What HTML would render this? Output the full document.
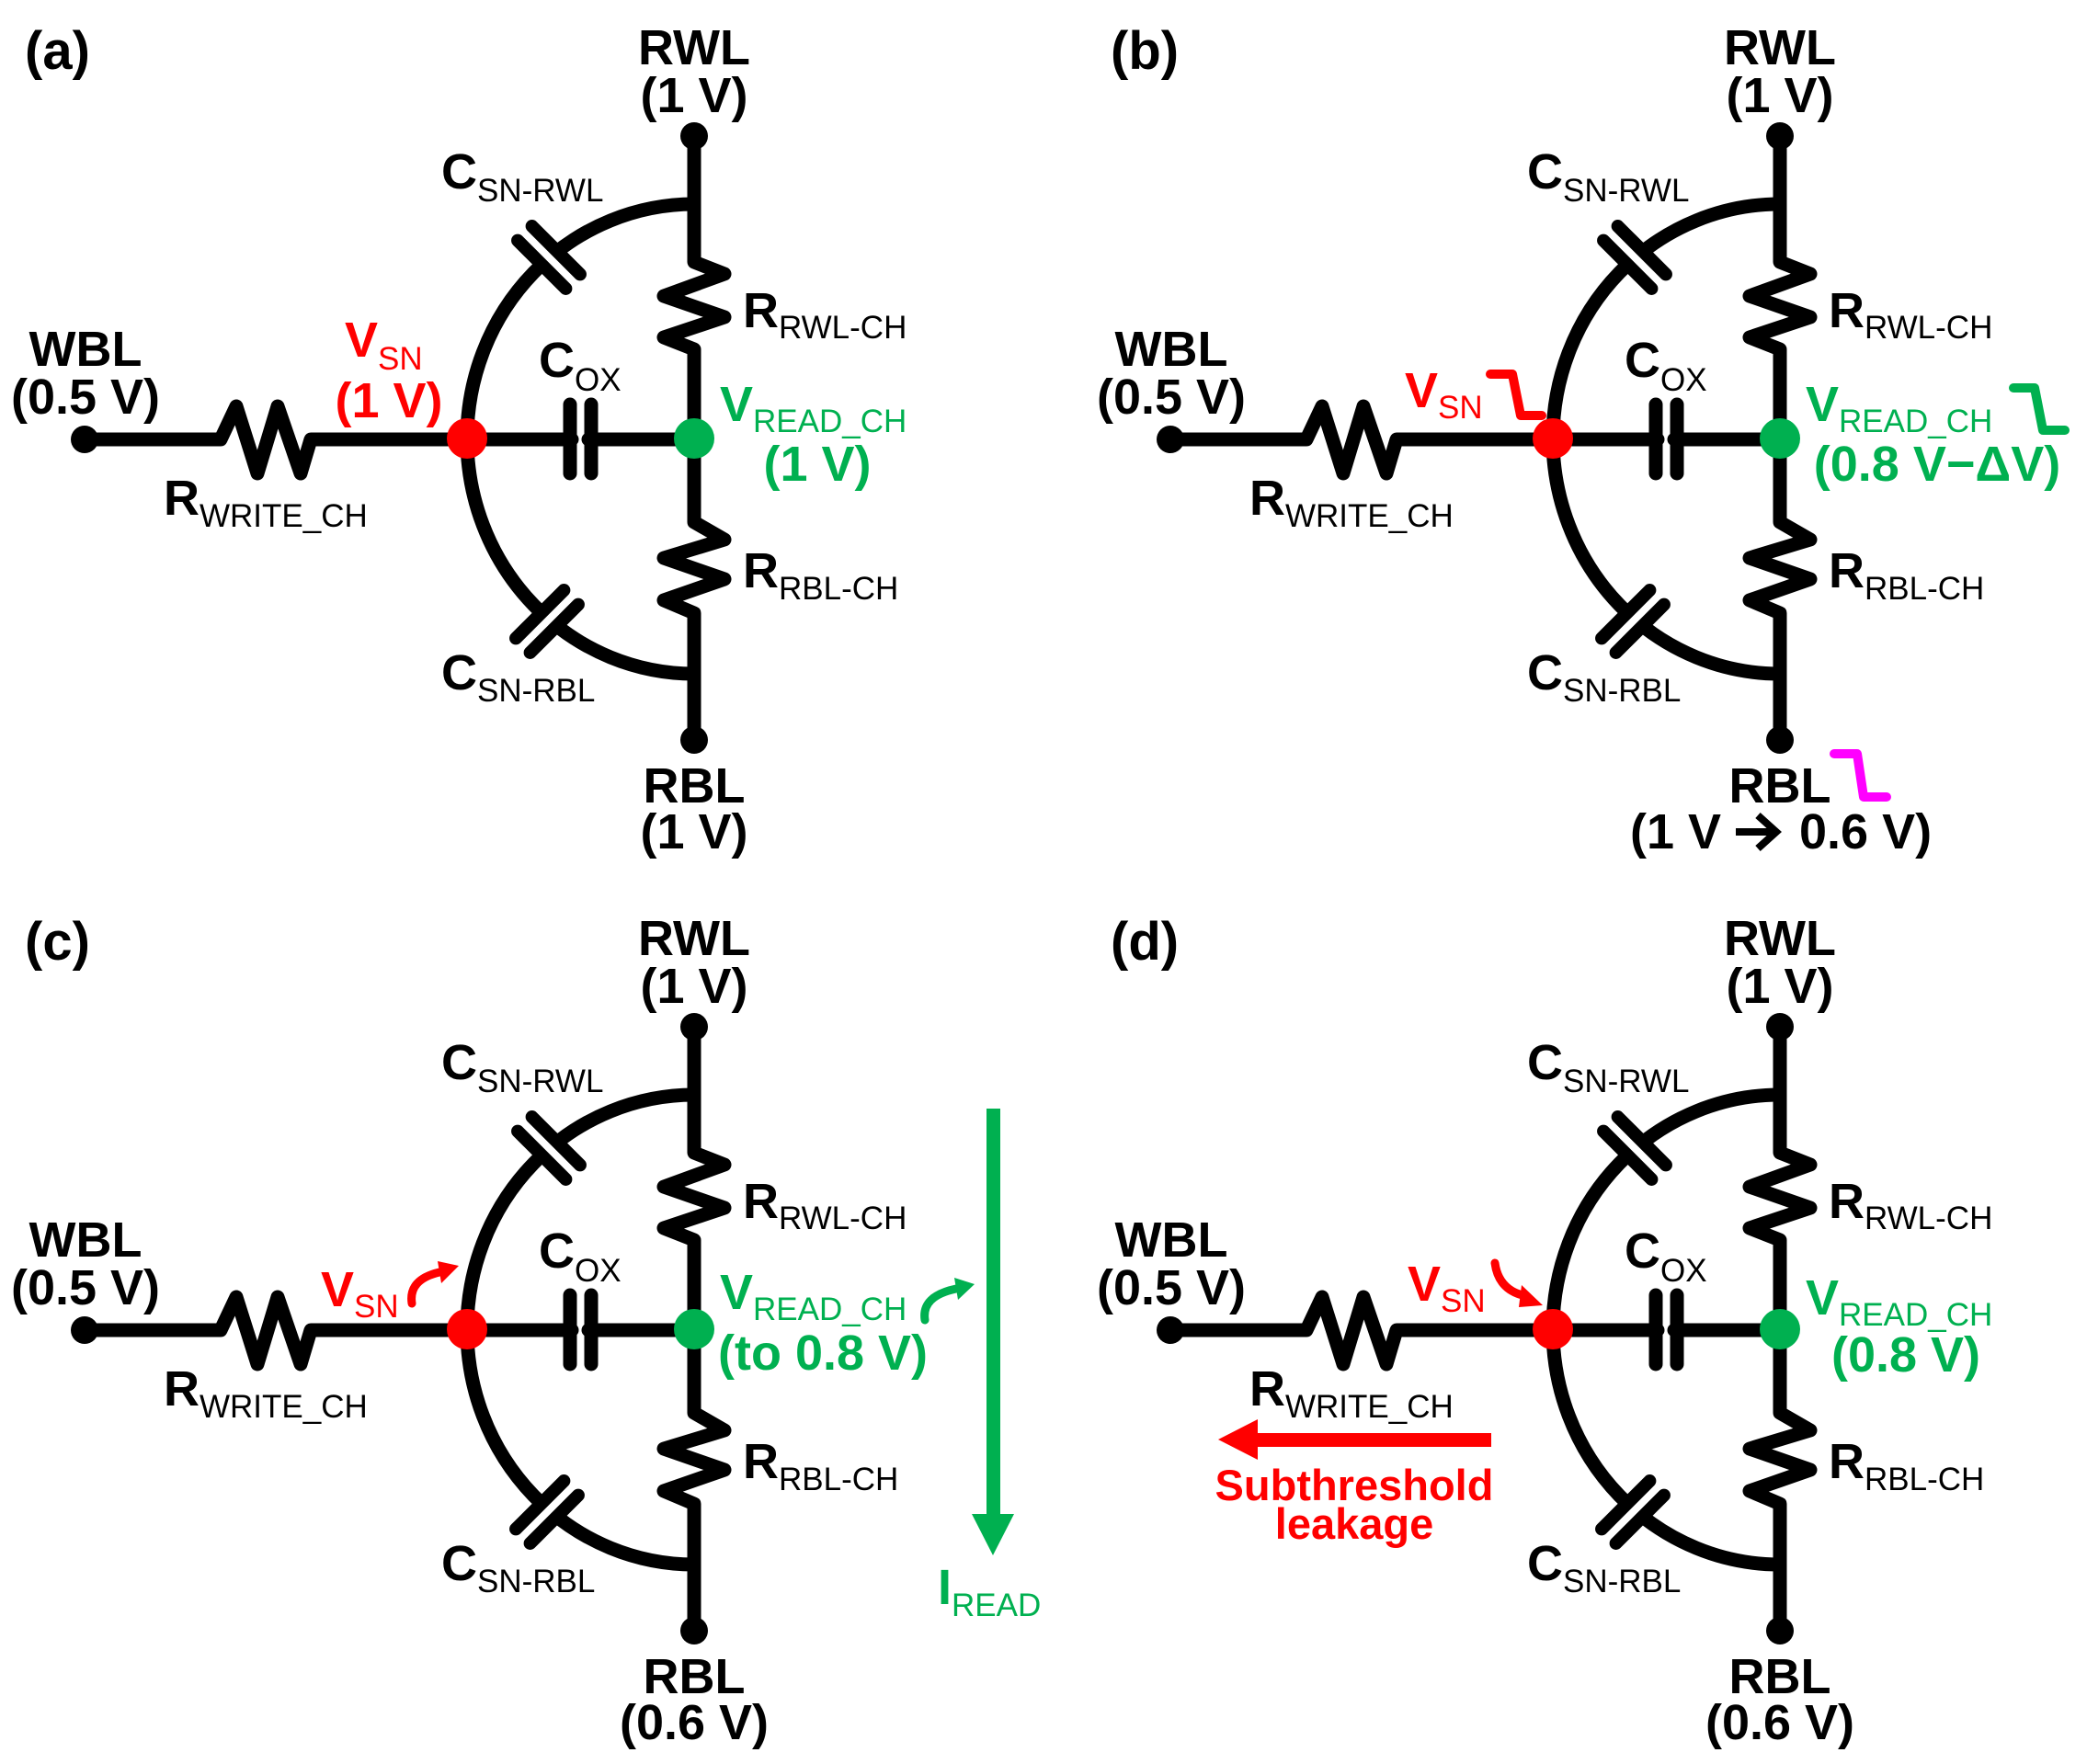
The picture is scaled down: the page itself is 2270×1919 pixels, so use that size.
<!DOCTYPE html>
<html><head><meta charset="utf-8"><style>
html,body{margin:0;padding:0;background:#fff;}
svg{display:block;}
text{font-family:"Liberation Sans",Arial,sans-serif;font-weight:bold;font-size:54px;}
.s{font-weight:normal;font-size:35px;}
</style></head><body>
<svg width="2270" height="1919" viewBox="0 0 2270 1919" xmlns="http://www.w3.org/2000/svg">
<defs>
<g id="circ">
  <g fill="none" stroke="#000" stroke-width="15" stroke-linecap="round" stroke-linejoin="round">
    <polyline points="92,478 240,478 257,442 280,515 302,442 327,515 338,478 508,478"/>
    <polyline points="508,478 622,478"/>
    <polyline points="640,478 755,478"/>
    <polyline points="755,148 755,285 788,298 722,322 788,345 722,367 755,380 755,568 788,587 722,607 788,630 722,653 755,667 755,805"/>
    <path d="M755,222 A247,255 0 0 0 508,477 A247,256 0 0 0 755,733" stroke-linecap="butt"/>
  </g>
  <g stroke="#000" stroke-width="15" stroke-linecap="round">
    <line x1="620" y1="440" x2="620" y2="515"/>
    <line x1="643" y1="440" x2="643" y2="515"/>
  </g>
  <g transform="translate(597,280) rotate(-45)">
    <rect x="-11" y="-12" width="22" height="24" fill="#fff"/>
    <line x1="-11" y1="-37" x2="-11" y2="37" stroke="#000" stroke-width="14" stroke-linecap="round"/>
    <line x1="11" y1="-37" x2="11" y2="37" stroke="#000" stroke-width="14" stroke-linecap="round"/>
  </g>
  <g transform="translate(595,676) rotate(45)">
    <rect x="-11" y="-12" width="22" height="24" fill="#fff"/>
    <line x1="-11" y1="-37" x2="-11" y2="37" stroke="#000" stroke-width="14" stroke-linecap="round"/>
    <line x1="11" y1="-37" x2="11" y2="37" stroke="#000" stroke-width="14" stroke-linecap="round"/>
  </g>
  <circle cx="92" cy="478" r="15" fill="#000"/>
  <circle cx="755" cy="148" r="15" fill="#000"/>
  <circle cx="755" cy="805" r="15" fill="#000"/>
  <circle cx="508" cy="477" r="22" fill="#ff0000"/>
  <circle cx="755" cy="477" r="22" fill="#00b050"/>
  <text x="755" y="70" text-anchor="middle">RWL</text>
  <text x="755" y="122" text-anchor="middle">(1 V)</text>
  <text x="480" y="205">C<tspan class="s" dy="14">SN-RWL</tspan></text>
  <text x="808" y="356">R<tspan class="s" dy="12">RWL-CH</tspan></text>
  <text x="93" y="398" text-anchor="middle">WBL</text>
  <text x="93" y="450" text-anchor="middle">(0.5 V)</text>
  <text x="586" y="410">C<tspan class="s" dy="15">OX</tspan></text>
  <text x="178" y="560">R<tspan class="s" dy="13">WRITE_CH</tspan></text>
  <text x="808" y="639">R<tspan class="s" dy="13">RBL-CH</tspan></text>
  <text x="480" y="750">C<tspan class="s" dy="13">SN-RBL</tspan></text>
  <text x="755" y="873" text-anchor="middle">RBL</text>
</g>
</defs>

<!-- (a) -->
<use href="#circ"/>
<text x="27" y="75" style="font-size:58px">(a)</text>
<text x="375" y="388" fill="#ff0000">V<tspan class="s" dy="14">SN</tspan></text>
<text x="423" y="454" text-anchor="middle" fill="#ff0000">(1 V)</text>
<text x="783" y="458" fill="#00b050">V<tspan class="s" dy="12">READ_CH</tspan></text>
<text x="889" y="523" text-anchor="middle" fill="#00b050">(1 V)</text>
<text x="755" y="923" text-anchor="middle">(1 V)</text>

<!-- (b) -->
<g transform="translate(1181,0)"><use href="#circ"/></g>
<text x="1208" y="75" style="font-size:58px">(b)</text>
<text x="1528" y="443" fill="#ff0000">V<tspan class="s" dy="12">SN</tspan></text>
<polyline points="1621,407 1645,407 1654,452 1677,452" fill="none" stroke="#ff0000" stroke-width="10" stroke-linecap="round" stroke-linejoin="round"/>
<text x="1964" y="458" fill="#00b050">V<tspan class="s" dy="12">READ_CH</tspan></text>
<polyline points="2190,422 2213,422 2222,468 2246,468" fill="none" stroke="#00b050" stroke-width="10" stroke-linecap="round" stroke-linejoin="round"/>
<text x="2107" y="523" text-anchor="middle" fill="#00b050">(0.8 V−ΔV)</text>
<polyline points="1995,820 2020,820 2027,867 2052,867" fill="none" stroke="#ff00ff" stroke-width="10" stroke-linecap="round" stroke-linejoin="round"/>
<text x="1773" y="923">(1 V</text>
<g fill="none" stroke="#000" stroke-width="8">
  <line x1="1888" y1="905" x2="1930" y2="905"/>
  <polyline points="1912,887 1932,905 1912,923"/>
</g>
<text x="1957" y="923">0.6 V)</text>

<!-- (c) -->
<g transform="translate(0,969)"><use href="#circ"/></g>
<text x="27" y="1044" style="font-size:58px">(c)</text>
<text x="349" y="1421" fill="#ff0000">V<tspan class="s" dy="12">SN</tspan></text>
<path d="M448,1418 Q444,1392 478,1384" fill="none" stroke="#ff0000" stroke-width="9" stroke-linecap="round"/>
<polygon points="476,1372 499,1377 480,1396" fill="#ff0000"/>
<text x="783" y="1424" fill="#00b050">V<tspan class="s" dy="12">READ_CH</tspan></text>
<text x="895" y="1490" text-anchor="middle" fill="#00b050">(to 0.8 V)</text>
<path d="M1006,1436 Q1002,1410 1040,1402" fill="none" stroke="#00b050" stroke-width="9" stroke-linecap="round"/>
<polygon points="1038,1390 1060,1397 1042,1414" fill="#00b050"/>
<rect x="1073" y="1206" width="15" height="445" fill="#00b050"/>
<polygon points="1057,1647 1103,1647 1080,1692" fill="#00b050"/>
<text x="1020" y="1745" fill="#00b050">I<tspan class="s" dy="13">READ</tspan></text>
<text x="755" y="1892" text-anchor="middle">(0.6 V)</text>

<!-- (d) -->
<g transform="translate(1181,969)"><use href="#circ"/></g>
<text x="1208" y="1044" style="font-size:58px">(d)</text>
<text x="1531" y="1415" fill="#ff0000">V<tspan class="s" dy="12">SN</tspan></text>
<path d="M1626,1374 Q1630,1404 1660,1410" fill="none" stroke="#ff0000" stroke-width="9" stroke-linecap="round"/>
<polygon points="1655,1398 1678,1420 1652,1422" fill="#ff0000"/>
<text x="1964" y="1430" fill="#00b050">V<tspan class="s" dy="12">READ_CH</tspan></text>
<text x="2073" y="1492" text-anchor="middle" fill="#00b050">(0.8 V)</text>
<rect x="1366" y="1559" width="256" height="15" fill="#ff0000"/>
<polygon points="1325,1566 1368,1544 1368,1588" fill="#ff0000"/>
<text x="1473" y="1632" text-anchor="middle" fill="#ff0000" style="font-size:47px">Subthreshold</text>
<text x="1473" y="1674" text-anchor="middle" fill="#ff0000" style="font-size:47px">leakage</text>
<text x="1936" y="1892" text-anchor="middle">(0.6 V)</text>
</svg>
</body></html>
